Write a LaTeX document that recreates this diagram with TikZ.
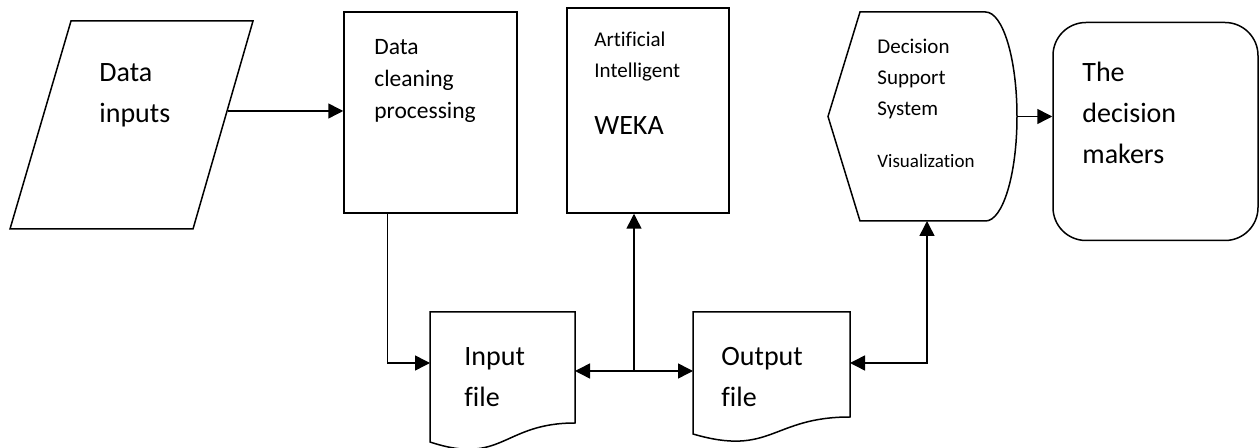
\documentclass[tikz,border=0pt]{standalone}
\usepackage{fontspec}
\setmainfont{Carlito}[Ligatures=NoCommon]
\usetikzlibrary{arrows.meta}

\tikzset{
	outline/.style={draw, line width=0.75pt},
	bigtxt/.style={font=\fontsize{14}{20.5}\selectfont, align=left, anchor=north west, inner sep=0pt},
	cleantxt/.style={font=\fontsize{11.75}{16}\selectfont, align=left, anchor=north west, inner sep=0pt},
	smalltxt/.style={font=\fontsize{10.5}{15.5}\selectfont, align=left, anchor=north west, inner sep=0pt},
	vistxt/.style={font=\fontsize{9.5}{13}\selectfont, anchor=north west, inner sep=0pt},
	link/.style={line width=0.75pt, -{Triangle[length=7.5pt,width=7.5pt]}},
	twolink/.style={line width=0.75pt, {Triangle[length=7.5pt,width=7.5pt]}-{Triangle[length=7.5pt,width=7.5pt]}},
}

\begin{document}
\begin{tikzpicture}[x=0.5pt, y=-0.5pt]
\useasboundingbox (0,0) rectangle (1260,448);

% data inputs
\draw[outline] (71,21) -- (253,21) -- (193,229) -- (10,229) -- cycle;
	\node[bigtxt] (inputs) at (99,63) {Data\\inputs};
\coordinate (paraR) at (228,111);

% boxes
\node[outline, minimum width=86.5pt, minimum height=100.5pt, inner sep=0pt] (clean) at (430.5,112.5) {};
	\node[cleantxt] (cleantext) at (374,39) {Data\\cleaning\\processing};
\node[outline, minimum width=81pt, minimum height=102.5pt, inner sep=0pt] (weka) at (648,110.5) {};
	\node[smalltxt] (aitext) at (594,32) {Artificial\\Intelligent};
	\node[bigtxt] (wekatext) at (594,116) {WEKA};

% display
\draw[outline] (828,116.5) -- (860,12) -- (985.5,12)
	.. controls (1002.9,12) and (1017,58.8) .. (1017,116.5)
	.. controls (1017,174.2) and (1002.9,221) .. (985.5,221)
	-- (860,221) -- cycle;
	\node[smalltxt] (dsstext) at (877,39) {Decision\\Support\\System};
	\node[vistxt] (vistext) at (877,154) {Visualization};
\coordinate (dssE) at (1017,116.5);
\coordinate (dssS) at (927,221);

\node[outline, rounded corners=16.5pt, minimum width=102.5pt, minimum height=109pt, inner sep=0pt] (dm) at (1155.5,131.5) {};
	\node[bigtxt] (dmtext) at (1082,62) {The\\decision\\makers};

% files
\draw[outline] (430,312) -- (575,312) -- (575,423)
	.. controls (502.5,423) and (502.5,466) .. (430,442) -- cycle;
	\node[bigtxt] (intext) at (464,347) {Input\\file};
\coordinate (infileW) at (430,363);
\coordinate (infileE) at (575,371);

\draw[outline] (693,312) -- (850,312) -- (850,417)
	.. controls (771.5,417) and (771.5,457) .. (693,434) -- cycle;
	\node[bigtxt] (outtext) at (721,347) {Output\\file};
\coordinate (outfileW) at (693,371);
\coordinate (outfileE) at (850,363);

% links
\draw[link] (paraR) -- (paraR -| clean.west);
\draw[link] ([xshift=22pt]clean.south west) |- (infileW);
\draw[twolink] (infileE) -- (outfileW);
\coordinate (junc) at (634,371);
\draw[link] (junc) -- (junc |- weka.south);
\draw[twolink] (outfileE) -| (dssS);
\draw[link] (dssE) -- (dssE -| dm.west);
\end{tikzpicture}
\end{document}
